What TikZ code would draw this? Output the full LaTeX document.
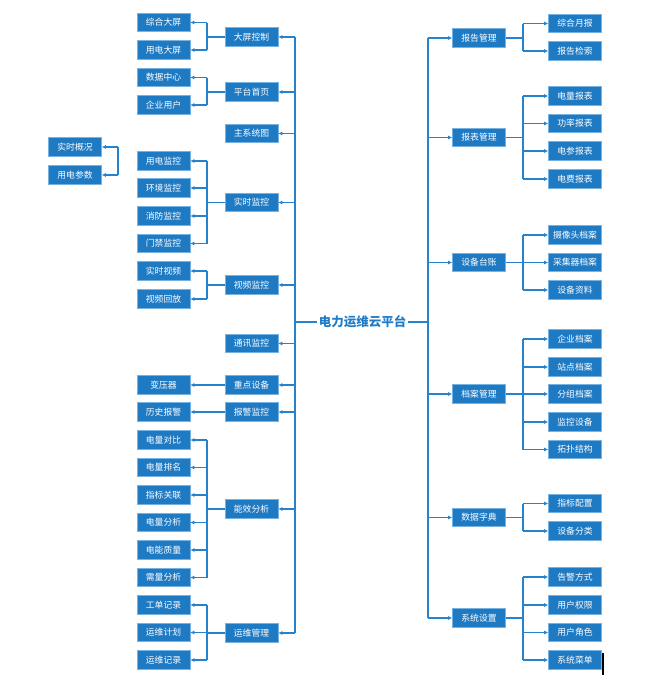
\documentclass[tikz,border=0pt]{standalone}
\usepackage{fontspec}
\newfontfamily\cjk{Noto Sans CJK SC}
\usetikzlibrary{arrows.meta}
\definecolor{boxblue}{RGB}{31,122,196}
\definecolor{boxedge}{RGB}{120,178,225}
\definecolor{lineblue}{RGB}{38,130,205}
\definecolor{titleblue}{RGB}{33,124,200}
\newcommand\famL[5]{%
 \node[box] (#1) at (251.5,#2) {#3};
 \draw[arr] (#1.east -| LT) -- (#1.east);
 \foreach \yy/\lab [count=\i] in {#4} {\node[box] (#1c\i) at (163.5,\yy) {\lab}; \draw[arr] (#1c\i.east -| LJ) -- (#1c\i.east);}
 \draw[conn] (#1.west) -- (#1.west -| LJ);
 \draw[conn] (#1c1.east -| LJ) -- (#1c#5.east -| LJ);
}
\newcommand\famR[5]{%
 \node[box] (#1) at (479,#2) {#3};
 \draw[arr] (#1.west -| RT) -- (#1.west);
 \foreach \yy/\lab [count=\i] in {#4} {\node[box] (#1c\i) at (575,\yy) {\lab}; \draw[arr] (#1c\i.west -| RJ) -- (#1c\i.west);}
 \draw[conn] (#1.east) -- (#1.east -| RJ);
 \draw[conn] (#1c1.west -| RJ) -- (#1c#5.west -| RJ);
}
\begin{document}
\begin{tikzpicture}[x=1pt,y=-1pt,
  box/.style={fill=boxblue,draw=boxedge,line width=0.6pt,text=white,minimum width=53pt,minimum height=18.5pt,inner sep=0pt,font=\cjk\fontsize{8.8}{9}\selectfont},
  conn/.style={draw=lineblue,line width=1.4pt},
  arr/.style={conn,-{Latex[length=4pt,width=4pt]}},
  title/.style={text=titleblue,font=\cjk\bfseries\fontsize{12.5}{13}\selectfont,inner sep=2pt}]
\useasboundingbox (0,0) rectangle (653,691);
\node[title] (root) at (362.5,322) {电力运维云平台};
\coordinate (LT) at (295,322);
\coordinate (RT) at (428,322);
\coordinate (LJ) at (207,0);
\coordinate (RJ) at (523,0);
\coordinate (BJ) at (118,0);
\draw[conn] (root.west) -- (LT);
\draw[conn] (root.east) -- (RT);
% left side
\famL{m1}{37}{大屏控制}{22.5/综合大屏,50/用电大屏}{2}
\famL{m2}{92}{平台首页}{77.5/数据中心,105/企业用户}{2}
\node[box] (m3) at (251.5,133.5) {主系统图};
\draw[arr] (m3.east -| LT) -- (m3.east);
\famL{m4}{202.5}{实时监控}{161/用电监控,188/环境监控,216/消防监控,243.5/门禁监控}{4}
\famL{m5}{285}{视频监控}{271/实时视频,299/视频回放}{2}
\node[box] (m6) at (251.5,343.5) {通讯监控};
\draw[arr] (m6.east -| LT) -- (m6.east);
\node[box] (m7) at (251.5,385) {重点设备};
\draw[arr] (m7.east -| LT) -- (m7.east);
\node[box] (m7c1) at (163.5,385) {变压器};
\draw[arr] (m7.west) -- (m7c1.east);
\node[box] (m8) at (251.5,412) {报警监控};
\draw[arr] (m8.east -| LT) -- (m8.east);
\node[box] (m8c1) at (163.5,412) {历史报警};
\draw[arr] (m8.west) -- (m8c1.east);
\famL{m9}{509}{能效分析}{440/电量对比,467.5/电量排名,495/指标关联,522.5/电量分析,550/电能质量,577.5/需量分析}{6}
\famL{m10}{633}{运维管理}{605/工单记录,632.5/运维计划,660/运维记录}{3}
\draw[conn] (m1.east -| LT) -- (m10.east -| LT);
% far left bracket
\node[box] (f1) at (75,147) {实时概况};
\node[box] (f2) at (75,175) {用电参数};
\draw[conn] (f1.east -| BJ) -- (f2.east -| BJ);
\draw[arr] (f1.east -| BJ) -- (f1.east);
\draw[arr] (f2.east -| BJ) -- (f2.east);
% right side
\famR{r1}{38}{报告管理}{23.5/综合月报,51/报告检索}{2}
\famR{r2}{137.5}{报表管理}{96/电量报表,123.5/功率报表,151/电参报表,179/电费报表}{4}
\famR{r3}{262.5}{设备台账}{235/摄像头档案,262.5/采集器档案,290/设备资料}{3}
\famR{r4}{394}{档案管理}{339/企业档案,367/站点档案,394/分组档案,422/监控设备,449.5/拓扑结构}{5}
\famR{r5}{517.5}{数据字典}{503.5/指标配置,531/设备分类}{2}
\famR{r6}{618}{系统设置}{577/告警方式,605/用户权限,632.5/用户角色,660/系统菜单}{4}
\draw[conn] (r1.west -| RT) -- (r6.west -| RT);
% cursor mark
\coordinate (c1) at (603,653);
\coordinate (c2) at (603,675);
\draw[black,line width=1.5pt] (c1) -- (c2);
\end{tikzpicture}
\end{document}
